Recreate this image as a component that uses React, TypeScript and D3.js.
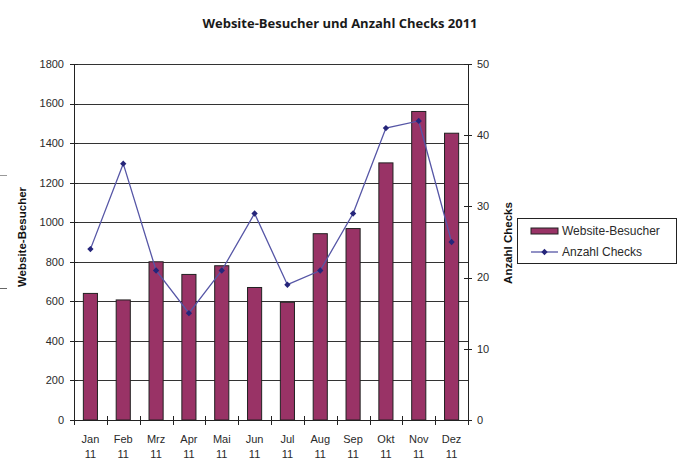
import React from "react";
import * as d3 from "d3";

// chart data
const months = ["Jan", "Feb", "Mrz", "Apr", "Mai", "Jun", "Jul", "Aug", "Sep", "Okt", "Nov", "Dez"];
const yearLabel = "11";
const visitors = [640, 607, 800, 736, 780, 670, 595, 942, 968, 1300, 1560, 1450];
const checks = [24, 36, 21, 15, 21, 29, 19, 21, 29, 41, 42, 25];
const leftTicks = [0, 200, 400, 600, 800, 1000, 1200, 1400, 1600, 1800];
const rightTicks = [0, 10, 20, 30, 40, 50];

const WIDTH = 682;
const HEIGHT = 459;
const plot = { left: 74, right: 468, top: 64, bottom: 420 };

const BAR_COLOR = "#993366";
const LINE_COLOR = "#5656a6";
const MARKER_COLOR = "#25257a";
const TEXT_COLOR = "#2a2a2a";
const AXIS_FONT = "'Liberation Sans', Arial, sans-serif";

export default function App(): React.ReactElement {
    const x = d3.scaleBand<string>().domain(months).range([plot.left, plot.right]).padding(0);
    const yLeft = d3.scaleLinear().domain([0, 1800]).range([plot.bottom, plot.top]);
    const yRight = d3.scaleLinear().domain([0, 50]).range([plot.bottom, plot.top]);

    const bw = x.bandwidth();
    const barW = bw * 0.43;
    const center = (m: string): number => (x(m) ?? 0) + bw / 2;

    const line = d3.line<number>()
        .x((_, i) => center(months[i]))
        .y((d) => yRight(d));

    // square turned by 45 degrees, like the Excel diamond marker
    const diamond = d3.symbol().type(d3.symbolSquare).size(20)() ?? "";

    const boundaries = months.map((m) => x(m) ?? 0).concat([plot.right]);

    return (
        <div style={{ position: "fixed", left: 0, top: 0 }}>
            <svg width={WIDTH} height={HEIGHT} style={{ display: "block", background: "#fff" }}>
                {/* cropped remains at the left edge */}
                <line x1={0} x2={7} y1={175.5} y2={175.5} stroke="#999" />
                <line x1={0} x2={7} y1={288.5} y2={288.5} stroke="#666" />

                <text x={340} y={28} textAnchor="middle" fontFamily="'Open Sans', sans-serif"
                    fontWeight="bold" fontSize={13} fill="#1a1a1a">
                    Website-Besucher und Anzahl Checks 2011
                </text>

                {/* gridlines */}
                {leftTicks.map((t) => (
                    <line key={"g" + t} x1={plot.left} x2={plot.right}
                        y1={Math.round(yLeft(t)) + 0.5} y2={Math.round(yLeft(t)) + 0.5}
                        stroke="#333" strokeWidth={1} />
                ))}

                {/* bars */}
                {months.map((m, i) => (
                    <rect key={"b" + m} x={center(m) - barW / 2} y={yLeft(visitors[i])}
                        width={barW} height={plot.bottom - yLeft(visitors[i])}
                        fill={BAR_COLOR} stroke="#222" strokeWidth={1} />
                ))}

                {/* axes */}
                <line x1={plot.left + 0.5} x2={plot.left + 0.5} y1={plot.top} y2={plot.bottom} stroke="#222" />
                <line x1={plot.right + 0.5} x2={plot.right + 0.5} y1={plot.top} y2={plot.bottom} stroke="#222" />
                <line x1={plot.left - 4} x2={plot.right + 4} y1={plot.bottom + 0.5} y2={plot.bottom + 0.5} stroke="#222" />

                {leftTicks.map((t) => (
                    <g key={"lt" + t}>
                        <line x1={plot.left - 4} x2={plot.left + 4}
                            y1={Math.round(yLeft(t)) + 0.5} y2={Math.round(yLeft(t)) + 0.5} stroke="#222" />
                        <text x={plot.left - 10} y={yLeft(t)} dy="0.35em" textAnchor="end"
                            fontFamily={AXIS_FONT} fontSize={11} fill={TEXT_COLOR}>{t}</text>
                    </g>
                ))}

                {rightTicks.map((t) => (
                    <g key={"rt" + t}>
                        <line x1={plot.right - 4} x2={plot.right + 4}
                            y1={Math.round(yRight(t)) + 0.5} y2={Math.round(yRight(t)) + 0.5} stroke="#222" />
                        <text x={plot.right + 9} y={yRight(t)} dy="0.35em" textAnchor="start"
                            fontFamily={AXIS_FONT} fontSize={11} fill={TEXT_COLOR}>{t}</text>
                    </g>
                ))}

                {boundaries.map((b, i) => (
                    <line key={"xt" + i} x1={Math.round(b) + 0.5} x2={Math.round(b) + 0.5}
                        y1={plot.bottom - 4} y2={plot.bottom + 5} stroke="#222" />
                ))}

                {months.map((m) => (
                    <text key={"xl" + m} x={center(m)} y={443} textAnchor="middle"
                        fontFamily={AXIS_FONT} fontSize={11} fill={TEXT_COLOR}>
                        <tspan x={center(m)} y={443}>{m}</tspan>
                        <tspan x={center(m)} y={458}>{yearLabel}</tspan>
                    </text>
                ))}

                {/* axis titles */}
                <text transform={`translate(26,237) rotate(-90)`} textAnchor="middle"
                    fontFamily={AXIS_FONT} fontWeight="bold" fontSize={11.5} fill="#111">
                    Website-Besucher
                </text>
                <text transform={`translate(512,243) rotate(-90)`} textAnchor="middle"
                    fontFamily={AXIS_FONT} fontWeight="bold" fontSize={11.5} fill="#111">
                    Anzahl Checks
                </text>

                {/* line series */}
                <path d={line(checks) ?? ""} fill="none" stroke={LINE_COLOR} strokeWidth={1.3} />
                {checks.map((c, i) => (
                    <path key={"m" + i} d={diamond}
                        transform={`translate(${center(months[i])},${yRight(c)}) rotate(45)`} fill={MARKER_COLOR} />
                ))}

                {/* legend */}
                <rect x={517.5} y={218.5} width={159} height={45} fill="#fff" stroke="#222" />
                <rect x={531} y={228} width={27} height={6} fill={BAR_COLOR} stroke="#222" />
                <text x={562} y={231} dy="0.35em" fontFamily={AXIS_FONT} fontSize={12} fill={TEXT_COLOR}>
                    Website-Besucher
                </text>
                <line x1={531} x2={558} y1={252} y2={252} stroke={LINE_COLOR} strokeWidth={1.3} />
                <path d={diamond} transform="translate(544.5,252) rotate(45)" fill={MARKER_COLOR} />
                <text x={562} y={252} dy="0.35em" fontFamily={AXIS_FONT} fontSize={12} fill={TEXT_COLOR}>
                    Anzahl Checks
                </text>
            </svg>
        </div>
    );
}
